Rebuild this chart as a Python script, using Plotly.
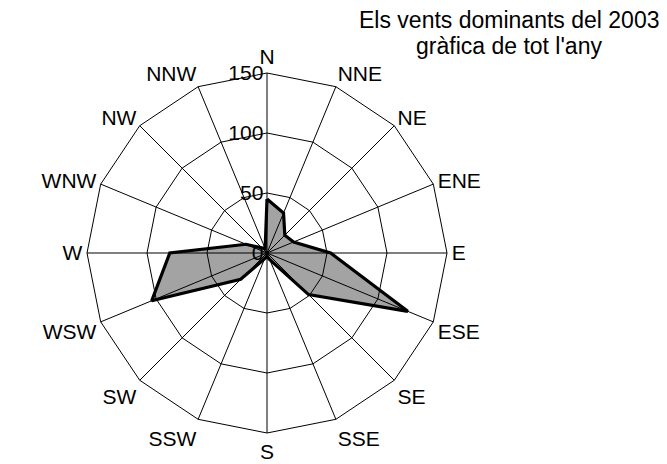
import plotly.graph_objects as go

directions = ["N", "NNE", "NE", "ENE", "E", "ESE", "SE", "SSE",
              "S", "SSW", "SW", "WSW", "W", "WNW", "NW", "NNW"]
wind_counts = [45, 36, 21, 24, 53, 127, 49, 6, 3, 5, 31, 104, 81, 19, 6, 4]
radial_ticks = [0, 50, 100, 150]
title_lines = ["Els vents dominants del 2003", "gràfica de tot l'any"]

FONT = "Liberation Sans, Arial, sans-serif"

fig = go.Figure()
fig.add_trace(go.Scatterpolar(
    r=wind_counts + wind_counts[:1],
    theta=directions + directions[:1],
    mode="lines",
    fill="toself",
    fillcolor="rgba(0,0,0,0.36)",
    line=dict(color="black", width=3.2),
    hoverinfo="r+theta",
    showlegend=False,
))

W, H = 667, 456
OFF = 8  # page body margin
R = 180
cx, cy = 267 - OFF, H - (253 - OFF)
fig.update_layout(
    width=W, height=H,
    margin=dict(l=0, r=0, t=0, b=0),
    paper_bgcolor="white",
    plot_bgcolor="white",
    font=dict(family=FONT, size=21, color="black"),
    polar=dict(
        domain=dict(x=[(cx - R) / W, (cx + R) / W], y=[(cy - R) / H, (cy + R) / H]),
        bgcolor="white",
        gridshape="linear",
        angularaxis=dict(
            rotation=90, direction="clockwise",
            categoryorder="array", categoryarray=directions,
            showline=True, linecolor="black", linewidth=1,
            gridcolor="black", gridwidth=1,
            ticks="", tickfont=dict(size=21, family=FONT, color="black"),
            layer="above traces",
        ),
        radialaxis=dict(
            range=[0, 150], tickvals=radial_ticks, ticktext=[str(v) for v in radial_ticks],
            angle=90, tickangle=90, side="counterclockwise",
            showline=False, gridcolor="black", gridwidth=1,
            ticks="", tickfont=dict(size=21, family=FONT, color="black"),
            layer="above traces",
        ),
    ),
    annotations=[
        dict(text=title_lines[0], x=(509 - OFF) / W, y=1 - (20 - OFF) / H,
             xref="paper", yref="paper", xanchor="center", yanchor="middle",
             showarrow=False, font=dict(size=23, family=FONT, color="black")),
        dict(text=title_lines[1], x=(509 - OFF) / W, y=1 - (46 - OFF) / H,
             xref="paper", yref="paper", xanchor="center", yanchor="middle",
             showarrow=False, font=dict(size=23, family=FONT, color="black")),
    ],
)

fig.write_html("out.html")
